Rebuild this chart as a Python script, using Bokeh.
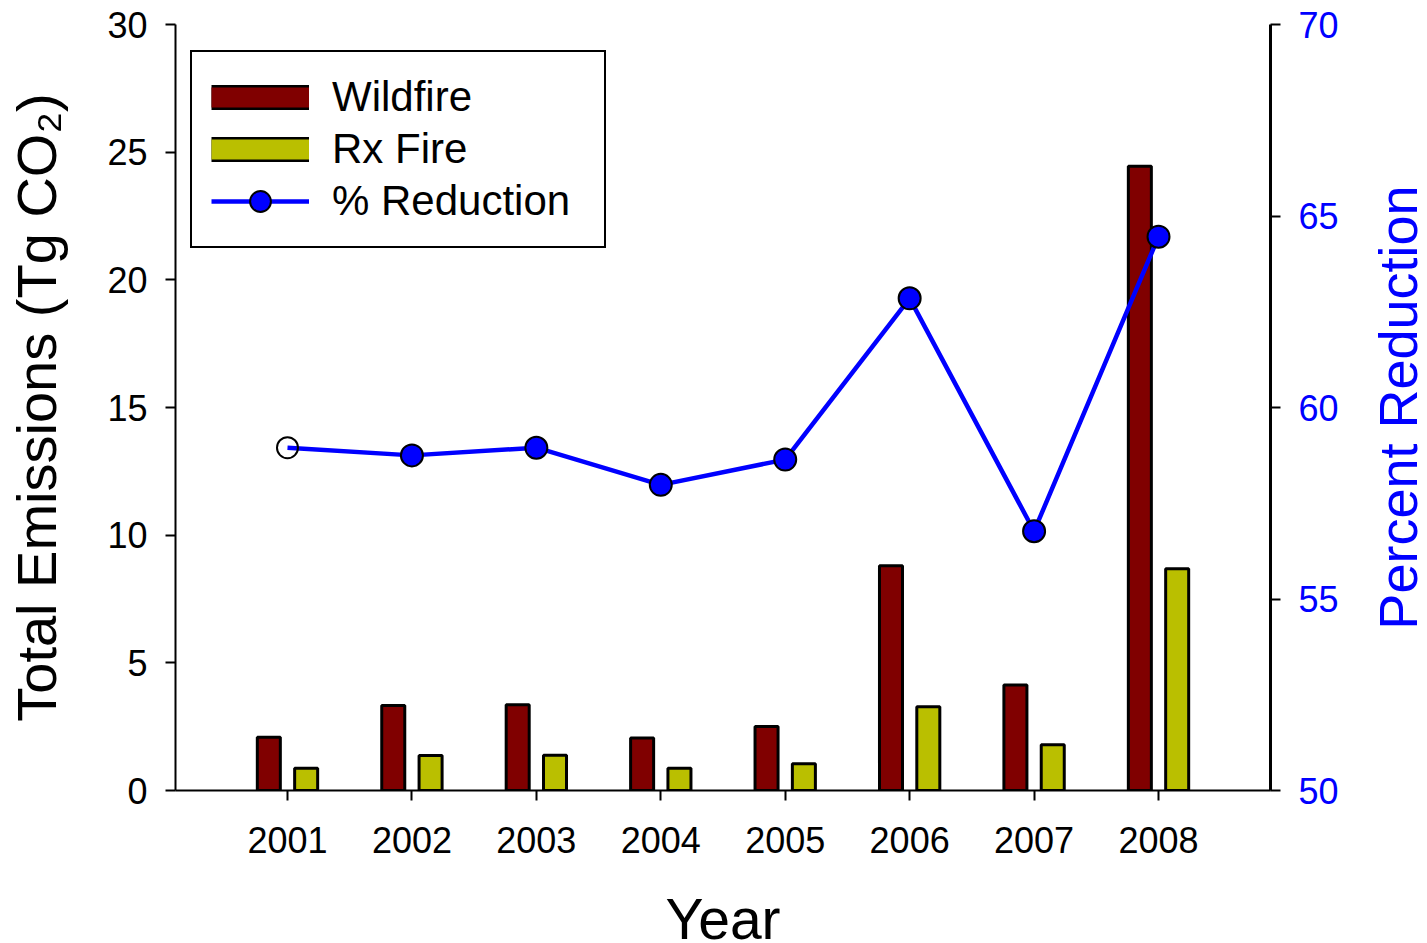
import math
from bokeh.plotting import figure
from bokeh.models import (Range1d, LinearAxis, FixedTicker, Legend, LegendItem,
                          ColumnDataSource, Label)
from bokeh.transform import dodge
from bokeh.embed import file_html
from bokeh.resources import INLINE

# ---- data ----
years = [2001, 2002, 2003, 2004, 2005, 2006, 2007, 2008]
year_labels = ["2001", "2002", "2003", "2004", "2005", "2006", "2007", "2008"]
wildfire = [2.09, 3.33, 3.36, 2.06, 2.51, 8.80, 4.13, 24.45]
rx_fire = [0.87, 1.37, 1.38, 0.87, 1.05, 3.28, 1.79, 8.68]
pct_reduction = [58.95, 58.75, 58.95, 57.98, 58.64, 62.85, 56.77, 64.46]
left_ticks = [0, 5, 10, 15, 20, 25, 30]
right_ticks = [50, 55, 60, 65, 70]

FONT = "Liberation Sans"
MAROON = "#800000"
OLIVE = "#BABF00"
BLUE = "#0000FF"

src = ColumnDataSource(dict(year=years, wildfire=wildfire, rx=rx_fire, pct=pct_reduction))

X0, X1 = 2000.1, 2008.9
Y0, Y1 = 0, 30
p = figure(width=1427, height=943,
           x_range=Range1d(X0, X1), y_range=Range1d(Y0, Y1),
           output_backend="svg", toolbar_location=None,
           min_border_left=175, min_border_right=157,
           min_border_top=24, min_border_bottom=153)
p.extra_y_ranges = {"pct": Range1d(50, 70)}
p.outline_line_color = None
p.xgrid.visible = False
p.ygrid.visible = False
p.background_fill_color = "white"
p.border_fill_color = "white"

# bars
bar_w = 0.185
p.vbar(x=dodge("year", -0.15), top="wildfire", width=bar_w, source=src,
       fill_color=MAROON, line_color="black", line_width=3)
p.vbar(x=dodge("year", 0.15), top="rx", width=bar_w, source=src,
       fill_color=OLIVE, line_color="black", line_width=3)

# percent reduction line
ln = p.line(x="year", y="pct", source=src, y_range_name="pct",
            line_color=BLUE, line_width=4.5)
first = ColumnDataSource(dict(year=years[:1], pct=pct_reduction[:1]))
rest = ColumnDataSource(dict(year=years[1:], pct=pct_reduction[1:]))
p.scatter(x="year", y="pct", source=first, y_range_name="pct", size=21,
          fill_color=None, line_color="black", line_width=2)
mk = p.scatter(x="year", y="pct", source=rest, y_range_name="pct", size=22,
               fill_color=BLUE, line_color="black", line_width=2)

# axes
xa = p.xaxis[0]
xa.ticker = FixedTicker(ticks=years)
xa.major_label_overrides = {y: l for y, l in zip(years, year_labels)}
ya = p.yaxis[0]
ya.ticker = FixedTicker(ticks=left_ticks)
ya.axis_label = "Total Emissions (Tg CO\u2082)"

ra = LinearAxis(y_range_name="pct", ticker=FixedTicker(ticks=right_ticks))
p.add_layout(ra, "right")

for ax in (xa, ya, ra):
    ax.axis_line_color = "black"
    ax.axis_line_width = 2
    ax.major_tick_line_color = "black"
    ax.major_tick_line_width = 2
    ax.major_tick_out = 10
    ax.major_tick_in = 0
    ax.minor_tick_line_color = None
    ax.major_label_text_font = FONT
    ax.major_label_text_font_size = "36px"
    ax.major_label_text_color = "black"
    ax.axis_label_text_font = FONT
    ax.axis_label_text_font_size = "56px"
    ax.axis_label_text_font_style = "normal"
    ax.axis_label_text_color = "black"

ra.axis_line_width = 3
ra.major_label_text_color = BLUE
xa.major_label_standoff = 26
ya.major_label_standoff = 18
ya.axis_label_standoff = 36
ra.major_label_standoff = 18

# titles placed in the side panels (outside the frame)
px_per_year = (1270 - 175) / (X1 - X0)
px_per_unit = (790 - 24) / (Y1 - Y0)
p.add_layout(Label(x=X1 + 127 / px_per_year, y=(Y0 + Y1) / 2, text="Percent Reduction",
                   angle=math.pi / 2, text_align="center", text_baseline="alphabetic",
                   text_font=FONT, text_font_size="54px", text_color=BLUE), "right")
p.add_layout(Label(x=(X0 + X1) / 2, y=Y0 - 128 / px_per_unit, text="Year",
                   text_align="center", text_baseline="alphabetic",
                   text_font=FONT, text_font_size="57px", text_color="black"), "below")

# legend helper glyphs (NaN data: nothing drawn in the plot, only in the legend)
nan = [float("nan")]
wf_edge = p.line(x=nan, y=nan, line_color="black", line_width=25)
wf_fill = p.line(x=nan, y=nan, line_color=MAROON, line_width=20)
rx_edge = p.line(x=nan, y=nan, line_color="black", line_width=25)
rx_fill = p.line(x=nan, y=nan, line_color=OLIVE, line_width=20)

legend = Legend(items=[
    LegendItem(label="Wildfire", renderers=[wf_edge, wf_fill]),
    LegendItem(label="Rx Fire", renderers=[rx_edge, rx_fill]),
    LegendItem(label="% Reduction", renderers=[ln, mk]),
], location=(15, 542))
legend.margin = 0
legend.padding = 19
legend.spacing = 0
legend.glyph_width = 98
legend.glyph_height = 52
legend.label_width = 253
legend.label_standoff = 23
legend.label_text_font = FONT
legend.label_text_font_size = "42px"
legend.label_text_color = "black"
legend.border_line_color = "black"
legend.border_line_alpha = 1.0
legend.border_line_width = 2
legend.background_fill_color = "white"
legend.background_fill_alpha = 1.0
p.add_layout(legend)

open("out.html", "w").write(file_html(p, INLINE))
